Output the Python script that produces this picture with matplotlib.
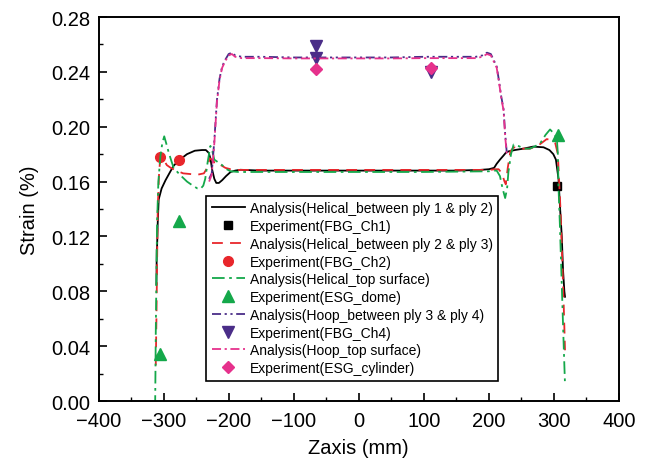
import numpy as np
import matplotlib.pyplot as plt
from matplotlib.ticker import MultipleLocator

plt.rcParams['font.family'] = ['Liberation Sans', 'DejaVu Sans']

# ---- analysis curves ----
black_x = [-311, -310.5, -310, -309, -307.5, -303, -297, -290, -284.5, -275, -264, -252,
           -241, -235, -230.7, -228, -225.5, -222, -219, -215, -210, -204, -197, -190,
           -182, -150, -100, -50, 0, 50, 100, 150, 186, 200, 208, 212, 217, 222.5, 226,
           230, 240, 253, 268, 284, 293, 299, 303, 307, 309.5, 312, 314, 316, 317]
black_y = [0.085, 0.110, 0.112, 0.130, 0.147, 0.155, 0.161, 0.167, 0.1716, 0.176, 0.180, 0.1825,
           0.183, 0.183, 0.181, 0.177, 0.169, 0.162, 0.159, 0.159, 0.161, 0.164, 0.167, 0.168,
           0.1686, 0.168, 0.168, 0.168, 0.168, 0.168, 0.168, 0.168, 0.1685, 0.169, 0.170, 0.173,
           0.176, 0.179, 0.181, 0.182, 0.183, 0.184, 0.1855, 0.185, 0.183, 0.180, 0.176, 0.162,
           0.140, 0.120, 0.095, 0.080, 0.076]

red_x = [-312, -311, -310, -309, -307, -305, -300, -295, -289, -280, -270, -259, -248, -238,
         -233, -229, -226, -222, -218, -212, -205, -197, -185, -100, 0, 100, 200, 210, 215, 220,
         224, 226, 229, 233, 238, 250, 263, 275, 289, 296, 302, 306, 308, 310, 313, 315, 317]
red_y = [0.026, 0.060, 0.100, 0.140, 0.165, 0.178, 0.176, 0.172, 0.170, 0.168, 0.166, 0.1655,
         0.165, 0.166, 0.170, 0.177, 0.176, 0.174, 0.1745, 0.172, 0.170, 0.169, 0.1685, 0.1685,
         0.1685, 0.1685, 0.1685, 0.169, 0.169, 0.166, 0.160, 0.158, 0.170, 0.182, 0.185, 0.184,
         0.184, 0.186, 0.191, 0.190, 0.188, 0.180, 0.160, 0.140, 0.100, 0.070, 0.037]

green_x = [-313, -312.5, -312, -311, -310, -308, -305, -302, -299, -296, -292, -288, -284.5,
           -275, -264, -255, -248, -243.5, -239, -236, -232, -228, -225, -222, -216, -210, -203,
           -197, -185, -100, 0, 100, 200, 208, 212, 217, 221, 225, 228, 230, 234, 238, 245, 255,
           263, 272, 279, 287, 294, 300, 304.5, 306, 307, 309, 311, 313, 315, 317]
green_y = [-0.005, 0.020, 0.050, 0.090, 0.130, 0.160, 0.178, 0.188, 0.193, 0.188, 0.181, 0.175,
           0.170, 0.165, 0.160, 0.157, 0.155, 0.1546, 0.157, 0.162, 0.175, 0.186, 0.182, 0.176,
           0.174, 0.172, 0.169, 0.1675, 0.167, 0.167, 0.167, 0.167, 0.1675, 0.168, 0.168, 0.164,
           0.155, 0.148, 0.155, 0.167, 0.180, 0.187, 0.186, 0.184, 0.184, 0.186, 0.188, 0.194,
           0.198, 0.195, 0.191, 0.180, 0.156, 0.130, 0.100, 0.070, 0.040, 0.012]

hoop_x = [-230, -226, -222, -218, -214, -210, -205, -200, -195, -190, -180, -150, -100, -50,
          0, 50, 100, 150, 180, 190, 197, 203, 208, 212, 216, 219, 222.5, 225, 227.5]
purple_y = [0.162, 0.166, 0.190, 0.2195, 0.235, 0.244, 0.249, 0.253, 0.254, 0.252, 0.251, 0.251,
            0.2505, 0.2505, 0.2505, 0.2505, 0.251, 0.251, 0.251, 0.252, 0.254, 0.253, 0.248,
            0.244, 0.232, 0.222, 0.213, 0.195, 0.181]
magenta_y = [0.160, 0.165, 0.188, 0.218, 0.234, 0.243, 0.248, 0.252, 0.253, 0.251, 0.250, 0.250,
             0.2498, 0.2498, 0.2498, 0.2498, 0.250, 0.250, 0.250, 0.251, 0.253, 0.252, 0.247,
             0.243, 0.231, 0.221, 0.212, 0.193, 0.180]

# ---- experiments ----
fbg1_x, fbg1_y = [305], [0.157]
fbg2_x, fbg2_y = [-306, -276], [0.178, 0.176]
esg_dome_x, esg_dome_y = [-305, -276, 306], [0.034, 0.131, 0.194]
fbg4_x, fbg4_y = [-65, -65, 111], [0.259, 0.250, 0.240]
esg_cyl_x, esg_cyl_y = [-65, 111], [0.242, 0.243]

BLACK = '#000000'
RED = '#e8262b'
GREEN = '#14a84a'
PURPLE = '#4a2d88'
MAGENTA = '#e6318c'

fig = plt.figure(figsize=(6.49, 4.64), dpi=100)
ax = fig.add_axes([0.1518, 0.1336, 0.802, 0.8276])

lw = 1.3
ax.plot(black_x, black_y, color=BLACK, lw=lw, ls='-',
        label='Analysis(Helical_between ply 1 & ply 2)')
ax.plot(fbg1_x, fbg1_y, ls='none', marker='s', ms=6, color=BLACK, label='Experiment(FBG_Ch1)')
ax.plot(red_x, red_y, color=RED, lw=lw, ls=(0, (6, 4)),
        label='Analysis(Helical_between ply 2 & ply 3)')
ax.plot(fbg2_x, fbg2_y, ls='none', marker='o', ms=7, color=RED, label='Experiment(FBG_Ch2)')
ax.plot(green_x, green_y, color=GREEN, lw=lw, ls=(0, (7, 2.5, 1.5, 2.5)),
        label='Analysis(Helical_top surface)')
ax.plot(esg_dome_x, esg_dome_y, ls='none', marker='^', ms=8, color=GREEN,
        label='Experiment(ESG_dome)')
ax.plot(hoop_x, purple_y, color=PURPLE, lw=lw, ls=(0, (5, 2, 1.2, 2, 1.2, 2)),
        label='Analysis(Hoop_between ply 3 & ply 4)')
ax.plot(fbg4_x, fbg4_y, ls='none', marker='v', ms=8, color=PURPLE, label='Experiment(FBG_Ch4)')
ax.plot(hoop_x, magenta_y, color=MAGENTA, lw=lw, ls=(0, (5, 2, 1.2, 2)),
        label='Analysis(Hoop_top surface)')
ax.plot(esg_cyl_x, esg_cyl_y, ls='none', marker='D', ms=6.5, color=MAGENTA,
        label='Experiment(ESG_cylinder)')

ax.set_xlim(-400, 400)
ax.set_ylim(0, 0.28)
ax.xaxis.set_major_locator(MultipleLocator(100))
ax.xaxis.set_minor_locator(MultipleLocator(50))
ax.yaxis.set_major_locator(MultipleLocator(0.04))
ax.yaxis.set_minor_locator(MultipleLocator(0.02))
ax.yaxis.set_major_formatter(plt.FuncFormatter(lambda v, p: f"{v:.2f}"))
ax.tick_params(which='both', direction='in', top=False, right=False, labelsize=14.5)
ax.tick_params(which='major', length=6, width=1.2)
ax.tick_params(axis='x', which='major', pad=7)
ax.tick_params(axis='y', which='major', pad=6)
ax.tick_params(which='minor', length=3, width=1.0)
for sp in ax.spines.values():
    sp.set_linewidth(1.4)

ax.set_xlabel('Zaxis (mm)', fontsize=14.5, labelpad=6)
ax.set_ylabel('Strain (%)', fontsize=14.5, labelpad=9)

leg = ax.legend(loc='lower left', bbox_to_anchor=(0.2065, 0.053), borderaxespad=0,
                fontsize=10, numpoints=1, handlelength=2.4, handletextpad=0.35,
                labelspacing=0.27, borderpad=0.4, fancybox=False, framealpha=1,
                edgecolor='black')
leg.get_frame().set_linewidth(1.2)

plt.savefig('out.png', dpi=100)
